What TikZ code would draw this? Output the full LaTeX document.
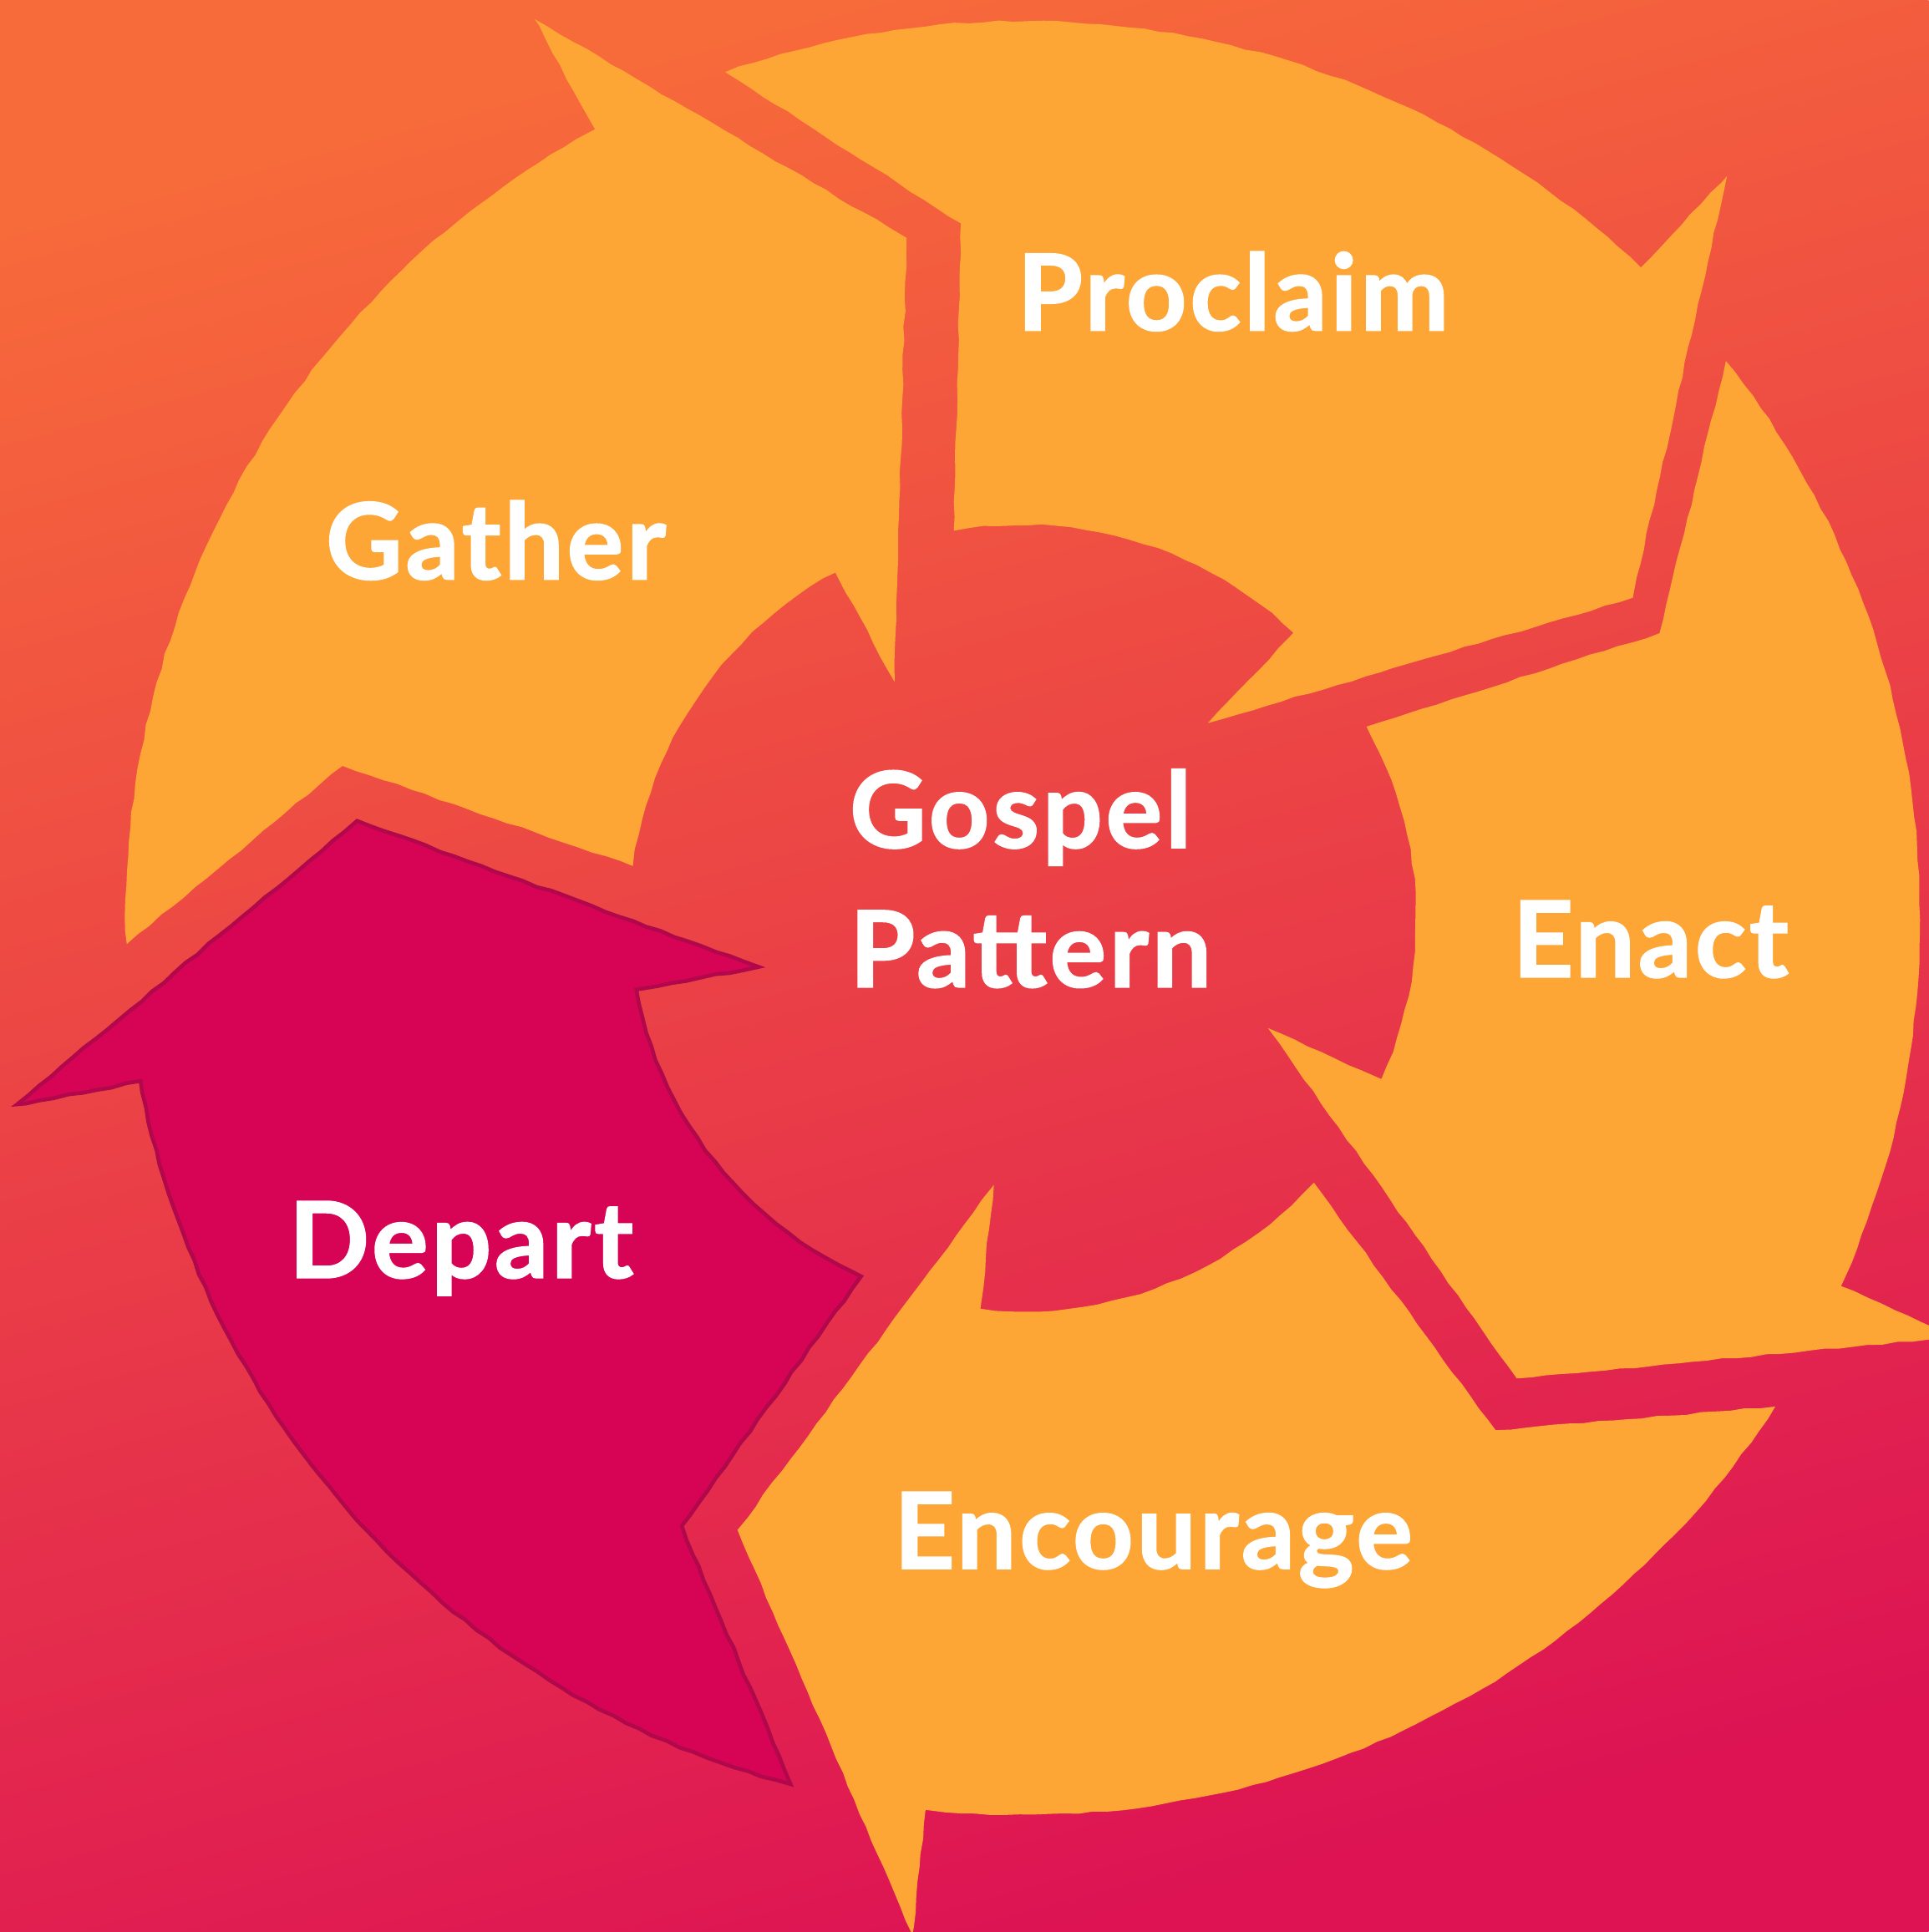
\documentclass[tikz,border=0pt]{standalone}
\usepackage{fontspec}
\setmainfont{Lato}[BoldFeatures={FakeBold=1.5}, LetterSpace=3]
\usetikzlibrary{decorations.pathmorphing}
\definecolor{bgA}{HTML}{F76A3A}
\definecolor{bgB}{HTML}{EB4347}
\definecolor{bgC}{HTML}{DD1354}
\definecolor{petal}{HTML}{FDA635}
\definecolor{departfill}{HTML}{D70456}
\definecolor{departline}{HTML}{B0084A}
% #1 head angle, #2 tip radius, #3 notch angle, #4 style
\newcommand{\gparrow}[4]{%
  \path[#4, shift={(830,745)}] (#1:830) -- ({#1+18.8}:#2) -- (#1:218) -- (#1:319)
    arc[start angle=#1, end angle={#3-5}, radius=319] -- (#3:566) -- ({#3-14.3}:728)
    arc[start angle={#3-14.3}, end angle=#1, radius=728] -- cycle;}
\begin{document}
\begin{tikzpicture}[x=0.14754mm, y=-0.14754mm,
  rough/.style={decorate, decoration={random steps, segment length=5pt, amplitude=0.3pt}},
  petalshape/.style={fill=petal, rough},
  departshape/.style={fill=departfill, draw=departline, line width=1.3pt, rough},
  lbl/.style={text=white, font=\fontsize{36}{40}\selectfont\bfseries, inner sep=0pt, anchor=base west}]
\useasboundingbox (0,0) rectangle (1565,1568);
\shade[top color=bgA, middle color=bgB, bottom color=bgC, shading angle=15] (0,0) rectangle (1565,1568);
\pgfmathsetseed{7}
\gparrow{-118.5}{560}{-167.4}{petalshape}
\gparrow{-46.5}{559}{-95.1}{petalshape}
\gparrow{24.2}{548}{-24.1}{petalshape}
\gparrow{96.2}{548}{47.3}{petalshape}
\gparrow{169.5}{546}{119.3}{departshape}
\node[lbl] (proclaim) at (825,268) {Proclaim};
\node[lbl] (gather) at (264,470) {Gather};
\node[lbl] (gospel) at (689,688) {Gospel};
\node[lbl] (pattern) at (689,801) {Pattern};
\node[lbl] (enact) at (1227,793) {Enact};
\node[lbl] (depart) at (234,1037) {Depart};
\node[lbl] (encourage) at (725,1273) {Encourage};
\end{tikzpicture}
\end{document}
